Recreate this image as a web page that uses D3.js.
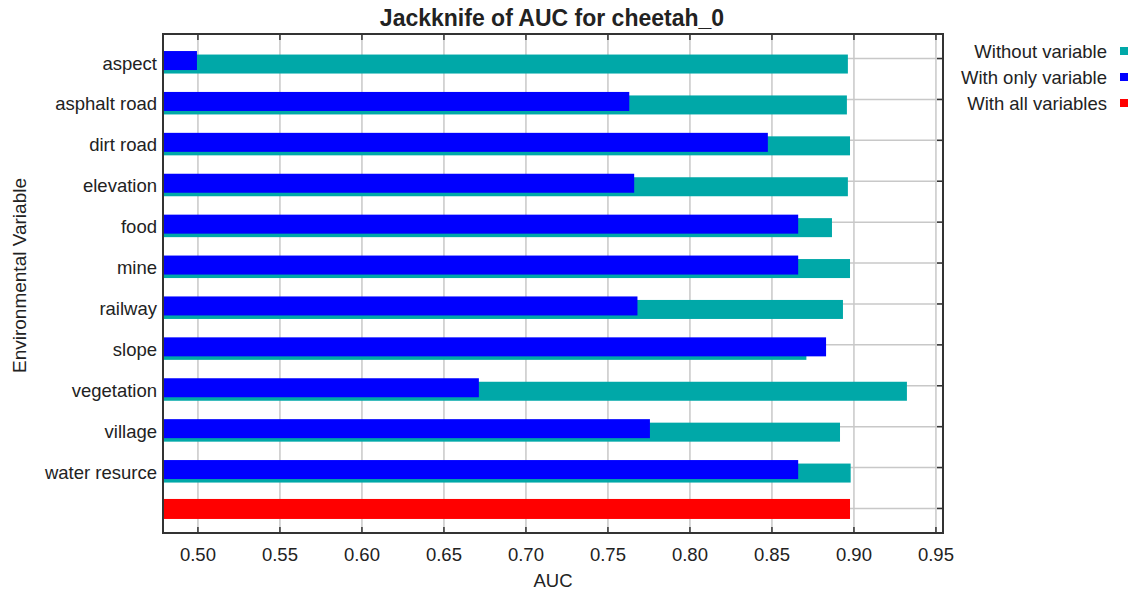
<!DOCTYPE html>
<html>
<head>
<meta charset="utf-8">
<script src="https://cdn.jsdelivr.net/npm/d3@7/dist/d3.min.js"></script>
<style>
  body { margin: 0; background: #fff; }
  text { font-family: "Liberation Sans", Arial, sans-serif; fill: #222; }
</style>
</head>
<body>
<div class="chart"></div>
<script>
// values
var variables = ["aspect", "asphalt road", "dirt road", "elevation", "food", "mine",
                 "railway", "slope", "vegetation", "village", "water resurce"];
var withoutVariable = [0.8963, 0.8957, 0.8976, 0.8963, 0.8866, 0.8976,
                       0.8933, 0.8710, 0.9323, 0.8915, 0.8980];
var withOnlyVariable = [0.4994, 0.7630, 0.8475, 0.7660, 0.8660, 0.8660,
                        0.7680, 0.8830, 0.6713, 0.7756, 0.8660];
var withAllVariables = [0.8976];
var xTicks = [0.50, 0.55, 0.60, 0.65, 0.70, 0.75, 0.80, 0.85, 0.90, 0.95];
var legendLabels = ["Without variable", "With only variable", "With all variables"];
var colors = ["#00a8a8", "#0000ff", "#ff0000"];

var W = 1131, H = 593,
    plot = {left: 163, right: 943, top: 34, bottom: 533};

var svg = d3.select(".chart").append("svg")
    .attr("width", W)
    .attr("height", H);

var x = d3.scaleLinear()
    .domain([0.4787, 0.9543])
    .range([plot.left, plot.right]);

// one row per variable, plus the last row for "all variables"
var rows = variables.length + 1;
var y = d3.scaleLinear()
    .domain([-0.6, rows - 0.4])
    .range([plot.top, plot.bottom]);

var g = svg.append("g");

// grid
g.selectAll(".vgrid")
  .data(xTicks)
  .enter().append("line")
    .attr("class", "vgrid")
    .attr("x1", d => x(d)).attr("x2", d => x(d))
    .attr("y1", plot.top).attr("y2", plot.bottom)
    .attr("stroke", "#c8c8c8")
    .attr("stroke-width", 1.5);

g.selectAll(".hgrid")
  .data(d3.range(rows))
  .enter().append("line")
    .attr("class", "hgrid")
    .attr("x1", plot.left).attr("x2", plot.right)
    .attr("y1", d => y(d)).attr("y2", d => y(d))
    .attr("stroke", "#c8c8c8")
    .attr("stroke-width", 1.5);

var barH = 19;

// without variable, drawn behind and a bit lower
g.selectAll(".without")
  .data(withoutVariable)
  .enter().append("rect")
    .attr("class", "without")
    .attr("x", plot.left)
    .attr("y", (d, i) => y(i) - 4)
    .attr("width", d => x(d) - plot.left)
    .attr("height", barH)
    .attr("fill", colors[0]);

g.selectAll(".only")
  .data(withOnlyVariable)
  .enter().append("rect")
    .attr("class", "only")
    .attr("x", plot.left)
    .attr("y", (d, i) => y(i) - 7.5)
    .attr("width", d => x(d) - plot.left)
    .attr("height", barH)
    .attr("fill", colors[1]);

g.selectAll(".all")
  .data(withAllVariables)
  .enter().append("rect")
    .attr("class", "all")
    .attr("x", plot.left)
    .attr("y", y(rows - 1) - 9.5)
    .attr("width", d => x(d) - plot.left)
    .attr("height", 20)
    .attr("fill", colors[2]);

// inner tick marks on the frame
var tickLen = 6;
xTicks.forEach(t => {
  g.append("line")
    .attr("x1", x(t)).attr("x2", x(t))
    .attr("y1", plot.top).attr("y2", plot.top + tickLen)
    .attr("stroke", "#333").attr("stroke-width", 1.5);
  g.append("line")
    .attr("x1", x(t)).attr("x2", x(t))
    .attr("y1", plot.bottom).attr("y2", plot.bottom - tickLen)
    .attr("stroke", "#333").attr("stroke-width", 1.5);
});
d3.range(rows).forEach(i => {
  g.append("line")
    .attr("x1", plot.right).attr("x2", plot.right - tickLen)
    .attr("y1", y(i)).attr("y2", y(i))
    .attr("stroke", "#333").attr("stroke-width", 1.5);
});

// frame
g.append("rect")
  .attr("x", plot.left).attr("y", plot.top)
  .attr("width", plot.right - plot.left)
  .attr("height", plot.bottom - plot.top)
  .attr("fill", "none")
  .attr("stroke", "#333")
  .attr("stroke-width", 2);

// x tick labels
svg.selectAll(".xlab")
  .data(xTicks)
  .enter().append("text")
    .attr("class", "xlab")
    .attr("x", d => x(d))
    .attr("y", 561)
    .attr("text-anchor", "middle")
    .attr("font-size", "18.5px")
    .text(d => d3.format(".2f")(d));

// category labels
svg.selectAll(".ylab")
  .data(variables)
  .enter().append("text")
    .attr("class", "ylab")
    .attr("x", plot.left - 6)
    .attr("y", (d, i) => y(i) + 11)
    .attr("text-anchor", "end")
    .attr("font-size", "18.5px")
    .text(d => d);

// titles
svg.append("text")
  .attr("x", 552).attr("y", 26)
  .attr("text-anchor", "middle")
  .attr("font-size", "23px")
  .attr("font-weight", "bold")
  .text("Jackknife of AUC for cheetah_0");

svg.append("text")
  .attr("x", (plot.left + plot.right) / 2).attr("y", 587)
  .attr("text-anchor", "middle")
  .attr("font-size", "18.5px")
  .text("AUC");

svg.append("text")
  .attr("transform", `translate(26, ${(plot.top + plot.bottom) / 2 - 8}) rotate(-90)`)
  .attr("text-anchor", "middle")
  .attr("font-size", "19px")
  .text("Environmental Variable");

// legend
var legend = svg.selectAll(".legend")
  .data(legendLabels)
  .enter().append("g")
    .attr("class", "legend")
    .attr("transform", (d, i) => `translate(0, ${58 + i * 26})`);

legend.append("text")
  .attr("x", 1107)
  .attr("text-anchor", "end")
  .attr("font-size", "18.5px")
  .text(d => d);

legend.append("rect")
  .attr("x", 1120).attr("y", -11)
  .attr("width", 8).attr("height", 8)
  .attr("fill", (d, i) => colors[i]);
</script>
</body>
</html>
